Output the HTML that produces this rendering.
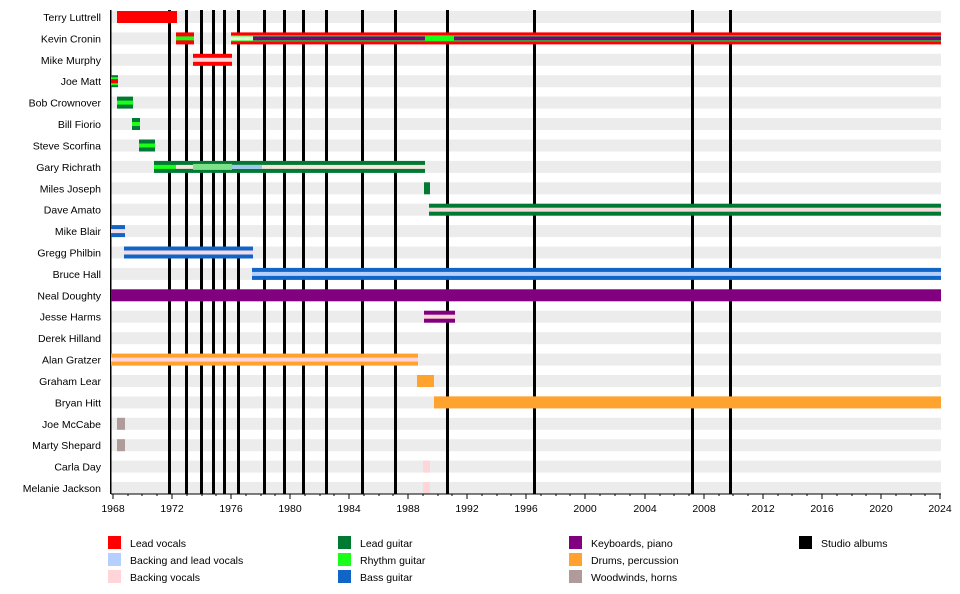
<!DOCTYPE html>
<html><head><meta charset="utf-8"><style>
html,body{margin:0;padding:0;background:#fff}
svg{display:block}
text{font-family:"Liberation Sans",Arial,sans-serif;font-size:10.5px;fill:#000}
</style></head><body>
<svg width="960" height="594" viewBox="0 0 960 594" xmlns="http://www.w3.org/2000/svg">
<g fill="#ececec">
<rect x="111" y="11" width="830" height="12"/>
<rect x="111" y="32.4" width="830" height="12"/>
<rect x="111" y="53.8" width="830" height="12"/>
<rect x="111" y="75.2" width="830" height="12"/>
<rect x="111" y="96.6" width="830" height="12"/>
<rect x="111" y="118" width="830" height="12"/>
<rect x="111" y="139.5" width="830" height="12"/>
<rect x="111" y="160.9" width="830" height="12"/>
<rect x="111" y="182.3" width="830" height="12"/>
<rect x="111" y="203.7" width="830" height="12"/>
<rect x="111" y="225.1" width="830" height="12"/>
<rect x="111" y="246.5" width="830" height="12"/>
<rect x="111" y="267.9" width="830" height="12"/>
<rect x="111" y="289.3" width="830" height="12"/>
<rect x="111" y="310.7" width="830" height="12"/>
<rect x="111" y="332.2" width="830" height="12"/>
<rect x="111" y="353.6" width="830" height="12"/>
<rect x="111" y="375" width="830" height="12"/>
<rect x="111" y="396.4" width="830" height="12"/>
<rect x="111" y="417.8" width="830" height="12"/>
<rect x="111" y="439.2" width="830" height="12"/>
<rect x="111" y="460.6" width="830" height="12"/>
<rect x="111" y="482" width="830" height="12"/>
</g>
<g fill="#000">
<rect x="168" y="10" width="3" height="484"/>
<rect x="185" y="10" width="3" height="484"/>
<rect x="200" y="10" width="3" height="484"/>
<rect x="212" y="10" width="3" height="484"/>
<rect x="223" y="10" width="3" height="484"/>
<rect x="237" y="10" width="3" height="484"/>
<rect x="263" y="10" width="3" height="484"/>
<rect x="283" y="10" width="3" height="484"/>
<rect x="302" y="10" width="3" height="484"/>
<rect x="325" y="10" width="3" height="484"/>
<rect x="361" y="10" width="3" height="484"/>
<rect x="394" y="10" width="3" height="484"/>
<rect x="446" y="10" width="3" height="484"/>
<rect x="533" y="10" width="3" height="484"/>
<rect x="691" y="10" width="3" height="484"/>
<rect x="729" y="10" width="3" height="484"/>
<rect x="110" y="10" width="1.5" height="484"/>
</g>
<rect x="117" y="11" width="60" height="12" fill="#ff0000"/>
<rect x="176" y="32.4" width="18" height="12" fill="#ff0000"/>
<rect x="176" y="36.4" width="18" height="4" fill="#19ff19"/>
<rect x="231" y="32.4" width="710" height="12" fill="#ff0000"/>
<rect x="231" y="35.4" width="710" height="6" fill="#19ff19"/>
<rect x="231" y="36.4" width="22" height="4" fill="#e6f6dc"/>
<rect x="253" y="36.4" width="172" height="4" fill="#800080"/>
<rect x="454" y="36.4" width="487" height="4" fill="#800080"/>
<rect x="193" y="53.8" width="39" height="12" fill="#ff0000"/>
<rect x="193" y="57.8" width="39" height="4" fill="#ffd5d9"/>
<rect x="111" y="75.2" width="7" height="12" fill="#007a33"/>
<rect x="111" y="77.2" width="7" height="8" fill="#19ff19"/>
<rect x="111" y="79.2" width="7" height="4" fill="#ff0000"/>
<rect x="117" y="96.6" width="16" height="12" fill="#007a33"/>
<rect x="117" y="100.6" width="16" height="4" fill="#19ff19"/>
<rect x="132" y="118" width="8" height="12" fill="#007a33"/>
<rect x="132" y="122" width="8" height="4" fill="#19ff19"/>
<rect x="139" y="139.5" width="16" height="12" fill="#007a33"/>
<rect x="139" y="143.5" width="16" height="4" fill="#19ff19"/>
<rect x="154" y="160.9" width="271" height="12" fill="#007a33"/>
<rect x="154" y="164.9" width="22" height="4" fill="#19ff19"/>
<rect x="176" y="164.9" width="249" height="4" fill="#f3e6dc"/>
<rect x="193" y="163.9" width="39" height="6" fill="#7fe08a"/>
<rect x="232" y="164.9" width="30" height="4" fill="#9cc8f0"/>
<rect x="424" y="182.3" width="6" height="12" fill="#007a33"/>
<rect x="429" y="203.7" width="512" height="12" fill="#007a33"/>
<rect x="429" y="207.7" width="512" height="4" fill="#f3dcd9"/>
<rect x="111" y="225.1" width="14" height="12" fill="#1065c6"/>
<rect x="111" y="229.1" width="14" height="4" fill="#f3dce6"/>
<rect x="124" y="246.5" width="129" height="12" fill="#1065c6"/>
<rect x="124" y="250.5" width="129" height="4" fill="#f3dce6"/>
<rect x="252" y="267.9" width="689" height="12" fill="#1065c6"/>
<rect x="252" y="271.9" width="689" height="4" fill="#b5d0ff"/>
<rect x="111" y="289.3" width="830" height="12" fill="#800080"/>
<rect x="424" y="310.7" width="31" height="12" fill="#800080"/>
<rect x="424" y="314.7" width="31" height="4" fill="#ffd5d9"/>
<rect x="111" y="353.6" width="307" height="12" fill="#ffa22e"/>
<rect x="111" y="357.6" width="307" height="4" fill="#ffd5d9"/>
<rect x="417" y="375" width="17" height="12" fill="#ffa22e"/>
<rect x="434" y="396.4" width="507" height="12" fill="#ffa22e"/>
<rect x="117" y="417.8" width="8" height="12" fill="#b09b9b"/>
<rect x="117" y="439.2" width="8" height="12" fill="#b09b9b"/>
<rect x="423" y="460.6" width="7" height="12" fill="#ffd5d9"/>
<rect x="423" y="482" width="7" height="12" fill="#ffd5d9"/>
<rect x="111" y="493.5" width="830" height="1" fill="#000"/>
<g stroke="#000" stroke-width="1">
<path d="M113 494v5M172 494v5M231 494v5M290 494v5M349 494v5M408 494v5M467 494v5M526 494v5M585 494v5M645 494v5M704 494v5M763 494v5M822 494v5M881 494v5M940 494v5"/>
<path d="M128 494v2M142 494v2M157 494v2M187 494v2M202 494v2M216 494v2M246 494v2M261 494v2M275 494v2M305 494v2M320 494v2M334 494v2M364 494v2M379 494v2M393 494v2M423 494v2M438 494v2M452 494v2M482 494v2M497 494v2M511 494v2M541 494v2M556 494v2M570 494v2M600 494v2M615 494v2M630 494v2M660 494v2M674 494v2M689 494v2M719 494v2M733 494v2M748 494v2M778 494v2M792 494v2M807 494v2M837 494v2M852 494v2M866 494v2M896 494v2M911 494v2M925 494v2"/>
</g>
<g text-anchor="middle">
<text x="113" y="512">1968</text><text x="172" y="512">1972</text><text x="231" y="512">1976</text><text x="290" y="512">1980</text><text x="349" y="512">1984</text><text x="408" y="512">1988</text><text x="467" y="512">1992</text><text x="526" y="512">1996</text><text x="585" y="512">2000</text><text x="645" y="512">2004</text><text x="704" y="512">2008</text><text x="763" y="512">2012</text><text x="822" y="512">2016</text><text x="881" y="512">2020</text><text x="940" y="512">2024</text>
</g>
<g text-anchor="end">
<text x="101" y="21">Terry Luttrell</text>
<text x="101" y="42.4">Kevin Cronin</text>
<text x="101" y="63.8">Mike Murphy</text>
<text x="101" y="85.2">Joe Matt</text>
<text x="101" y="106.6">Bob Crownover</text>
<text x="101" y="128">Bill Fiorio</text>
<text x="101" y="149.5">Steve Scorfina</text>
<text x="101" y="170.9">Gary Richrath</text>
<text x="101" y="192.3">Miles Joseph</text>
<text x="101" y="213.7">Dave Amato</text>
<text x="101" y="235.1">Mike Blair</text>
<text x="101" y="256.5">Gregg Philbin</text>
<text x="101" y="277.9">Bruce Hall</text>
<text x="101" y="299.3">Neal Doughty</text>
<text x="101" y="320.7">Jesse Harms</text>
<text x="101" y="342.2">Derek Hilland</text>
<text x="101" y="363.6">Alan Gratzer</text>
<text x="101" y="385">Graham Lear</text>
<text x="101" y="406.4">Bryan Hitt</text>
<text x="101" y="427.8">Joe McCabe</text>
<text x="101" y="449.2">Marty Shepard</text>
<text x="101" y="470.6">Carla Day</text>
<text x="101" y="492">Melanie Jackson</text>
</g>
<rect x="108" y="536" width="13" height="13" fill="#ff0000"/>
<rect x="108" y="553" width="13" height="13" fill="#b5d0ff"/>
<rect x="108" y="570" width="13" height="13" fill="#ffd5d9"/>
<text x="130" y="547">Lead vocals</text>
<text x="130" y="564">Backing and lead vocals</text>
<text x="130" y="581">Backing vocals</text>
<rect x="338" y="536" width="13" height="13" fill="#007a33"/>
<rect x="338" y="553" width="13" height="13" fill="#19ff19"/>
<rect x="338" y="570" width="13" height="13" fill="#1065c6"/>
<text x="360" y="547">Lead guitar</text>
<text x="360" y="564">Rhythm guitar</text>
<text x="360" y="581">Bass guitar</text>
<rect x="569" y="536" width="13" height="13" fill="#800080"/>
<rect x="569" y="553" width="13" height="13" fill="#ffa22e"/>
<rect x="569" y="570" width="13" height="13" fill="#b09b9b"/>
<text x="591" y="547">Keyboards, piano</text>
<text x="591" y="564">Drums, percussion</text>
<text x="591" y="581">Woodwinds, horns</text>
<rect x="799" y="536" width="13" height="13" fill="#000"/>
<text x="821" y="547">Studio albums</text>
</svg>
</body></html>
